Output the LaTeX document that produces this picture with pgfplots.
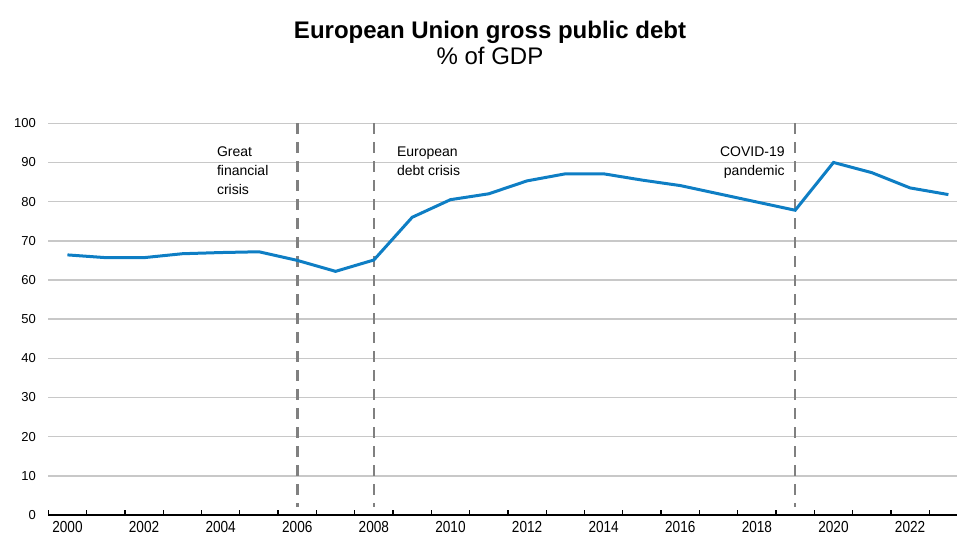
\documentclass[border=0pt]{standalone}
\usepackage{pgfplots}
\pgfplotsset{compat=1.18}
\usepackage{fontspec}
\setmainfont{Liberation Sans}
\newfontfamily\narrowfont{Liberation Sans}[FakeStretch=0.85]
\definecolor{debtblue}{RGB}{14,126,196}
\definecolor{gridgray}{RGB}{200,200,200}
\definecolor{crisisgray}{RGB}{128,128,128}

\pgfplotstableread{
year debt
2000 66.4
2001 65.7
2002 65.7
2003 66.7
2004 67.0
2005 67.2
2006 65.0
2007 62.2
2008 65.1
2009 76.0
2010 80.5
2011 82.0
2012 85.3
2013 87.1
2014 87.1
2015 85.5
2016 84.1
2017 82.0
2018 79.9
2019 77.8
2020 90.0
2021 87.4
2022 83.5
2023 81.8
}\debt

\begin{document}
\begin{tikzpicture}[x=1bp,y=1bp]
\useasboundingbox (-48.3,-20) rectangle (908.7,515);
\begin{axis}[
    at={(0,0)}, anchor=south west,
    scale only axis,
    width=908.7bp, height=391.7bp,
    xmin=1999.5, xmax=2023.225,
    ymin=0, ymax=100,
    axis line style={draw=none},
    xtick pos=bottom, ytick pos=left,
    ytick={0,10,...,100},
    ymajorgrids=true,
    grid style={gridgray, line width=1.5bp},
    xtick={2000,2002,...,2022},
    xticklabels={2000,2002,2004,2006,2008,2010,2012,2014,2016,2018,2020,2022},
    minor xtick={1999.5,2000.5,...,2022.5},
    major tick length=0pt,
    minor tick length=5bp,
    tick align=inside,
    minor tick style={black, line width=1.3bp},
    /pgf/number format/assume math mode=true,
    yticklabel style={font=\fontsize{13bp}{15bp}\selectfont, xshift=-9bp},
    xticklabel style={font=\narrowfont\fontsize{16bp}{18bp}\selectfont, yshift=-2.5bp},
    clip=false,
]
\draw[black, line width=2.2bp] (axis cs:1999.5,0) -- (axis cs:2023.225,0);
\foreach \yr in {2006,2008,2019} {
  \edef\tmp{\noexpand\draw[crisisgray, line width=2.6bp, dash pattern=on 11bp off 8bp]
    (axis cs:\yr,100) -- (axis cs:\yr,2);}
  \tmp
}
\addplot[debtblue, line width=3bp, no markers] table[x=year, y=debt] {\debt};
\node[anchor=north west, inner sep=0pt, align=left,
      font=\fontsize{14bp}{19bp}\selectfont]
  at (axis cs:2003.9,94) {Great\\financial\\crisis};
\node[anchor=north west, inner sep=0pt, align=left,
      font=\fontsize{14bp}{19bp}\selectfont]
  at (axis cs:2008.6,94) {European\\debt crisis};
\node[anchor=north east, inner sep=0pt, align=right,
      font=\fontsize{14bp}{19bp}\selectfont]
  at (axis cs:2018.73,94) {COVID-19\\pandemic};
\end{axis}
\node[anchor=base, inner sep=0pt, font=\fontsize{24bp}{28bp}\selectfont\bfseries]
  at (441.7,476.7) {European Union gross public debt};
\node[anchor=base, inner sep=0pt, font=\fontsize{24bp}{28bp}\selectfont]
  at (441.7,450) {\% of GDP};
\end{tikzpicture}
\end{document}
